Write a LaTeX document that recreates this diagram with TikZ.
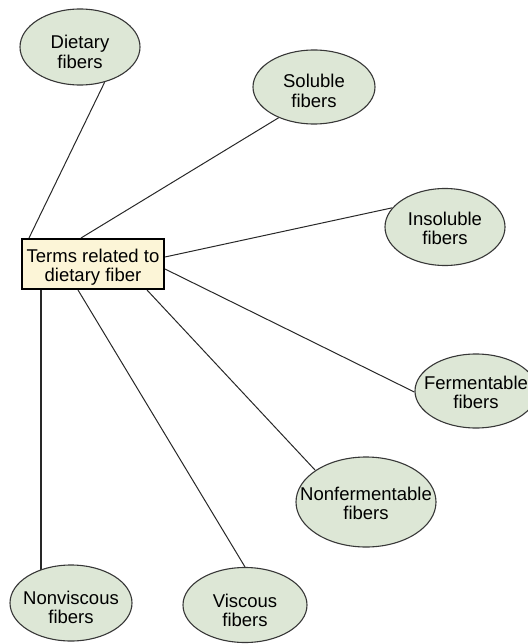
\documentclass[tikz,border=0pt]{standalone}
\usepackage{fontspec}
\setmainfont{Liberation Sans}
\usetikzlibrary{shapes.geometric,calc,backgrounds}
\definecolor{ellfill}{RGB}{221,231,214}
\definecolor{ellline}{RGB}{55,55,55}
\definecolor{boxfill}{RGB}{252,245,215}
\definecolor{linkcol}{RGB}{40,40,40}
\newcommand\twoline[3][3]{\makebox[0pt]{\smash{\raisebox{#1bp}{\begin{tabular}[t]{@{}c@{}}#2\\#3\end{tabular}}}}}
\tikzset{
  term/.style={ellipse, draw=ellline, line width=1.1bp, fill=ellfill, inner sep=0pt,
    minimum width=120bp, minimum height=76bp, font=\fontsize{18.5bp}{19bp}\selectfont},
  hub/.style={rectangle, draw=black, line width=2bp, fill=boxfill, inner sep=0pt,
    minimum width=142bp, minimum height=50bp, font=\fontsize{18.5bp}{19bp}\selectfont},
  link/.style={draw=linkcol, line width=1bp}
}
\begin{document}
\begin{tikzpicture}[x=1bp,y=-1bp]
\useasboundingbox (0,0) rectangle (528,644);
\node[hub] (hub) at (93,264) {\twoline[1.3]{Terms related to}{dietary fiber}};
\node[term] (diet) at (80,47) {\twoline[-2]{Dietary}{fibers}};
\node[term, minimum width=122bp, minimum height=74bp] (sol) at (314,87) {\twoline[-1]{Soluble}{fibers}};
\node[term, minimum height=77bp] (insol) at (445,227) {\twoline[2]{Insoluble}{fibers}};
\node[term, minimum width=122bp, minimum height=74bp] (ferm) at (476,391) {\twoline[2]{Fermentable}{fibers}};
\node[term, minimum width=140bp, minimum height=90bp] (nonferm) at (366,502) {\twoline[2]{Nonfermentable}{fibers}};
\node[term, minimum width=124bp, minimum height=75bp] (visc) at (245,605) {\twoline[-2]{Viscous}{fibers}};
\node[term, minimum width=122bp, minimum height=76bp] (nonvisc) at (71,603) {\twoline[-1]{Nonviscous}{fibers}};
\begin{scope}[on background layer]
\draw[link] ($(hub.north west)+(8,0)$) -- (diet.-55);
\draw[link] ($(hub.north west)+(60,0)$) -- (sol.221);
\draw[link] ($(hub.north east)+(0,19)$) -- (insol.160);
\draw[link] ($(hub.north east)+(0,31)$) -- (ferm.181);
\draw[link] ($(hub.south west)+(126,0)$) -- (nonferm.148);
\draw[link] ($(hub.south west)+(57,0)$) -- (visc.90);
\coordinate (nvtop) at ($(hub.south west)+(20,0)$);
\draw[link, line width=2bp] (nvtop) -- (nvtop |- nonvisc.center);
\end{scope}
\end{tikzpicture}
\end{document}
